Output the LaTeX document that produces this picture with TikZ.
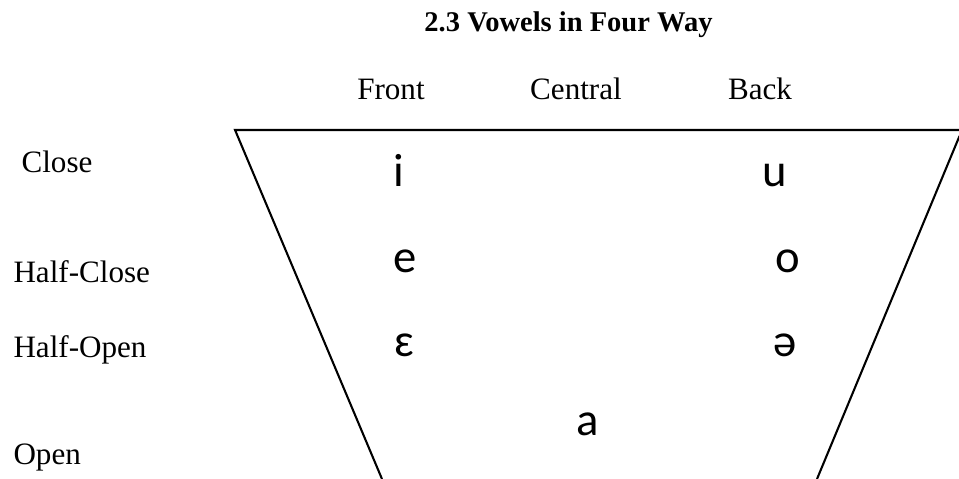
\documentclass[tikz,border=0pt]{standalone}
\usepackage{fontspec}
\setmainfont{Liberation Serif}
\newfontfamily\vowelfont{Carlito}

\begin{document}
\begin{tikzpicture}[
  scale=1.0,
  ttl/.style={anchor=base, inner sep=0pt,
              font=\bfseries\fontsize{11}{13}\selectfont},
  hdr/.style={anchor=base, inner sep=0pt, font=\fontsize{12}{14}\selectfont},
  lvl/.style={anchor=base west, inner sep=0pt,
              font=\fontsize{12}{14}\selectfont},
  vow/.style={anchor=base, inner sep=0pt,
              font=\vowelfont\fontsize{18}{20}\selectfont},
  rim/.style={draw, line width=0.8pt}
]
  \useasboundingbox (0,0) rectangle (13,6.493);
  \node[ttl] (title) at (7.707,6.060) {2.3 Vowels in Four Way};
  % column heads
  \node[hdr] (front) at (5.300,5.138) {Front};
  \node[hdr] (central) at (7.808,5.138) {Central};
  \node[hdr] (back) at (10.303,5.138) {Back};
  % row heads
  \node[lvl] (close) at (0.285,4.148) {Close};
  \node[lvl] (hclose) at (0.176,2.657) {Half-Close};
  \node[lvl] (hopen) at (0.176,1.640) {Half-Open};
  \node[lvl] (open) at (0.176,0.203) {Open};
  % the chart itself
  \coordinate (tl) at (3.186,4.731);
  \coordinate (tr) at (13.0,4.731);
  \coordinate (rt) at (13.007,4.650);
  \coordinate (bl) at (5.178,0);
  \coordinate (br) at (11.075,0);
  \draw[rim] (bl) -- (tl) -- (tr);
  \draw[rim] (rt) -- (br);
  \foreach \x/\y/\v/\nm in {
    5.409/3.958/i/vi, 10.506/3.958/u/vu,
    5.490/2.793/e/ve, 10.682/2.793/o/vo,
    5.477/1.654/ɛ/veps, 10.641/1.654/ə/vschwa,
    7.971/0.596/a/va}
    {\node[vow] (\nm) at (\x,\y) {\v};}
\end{tikzpicture}
\end{document}
